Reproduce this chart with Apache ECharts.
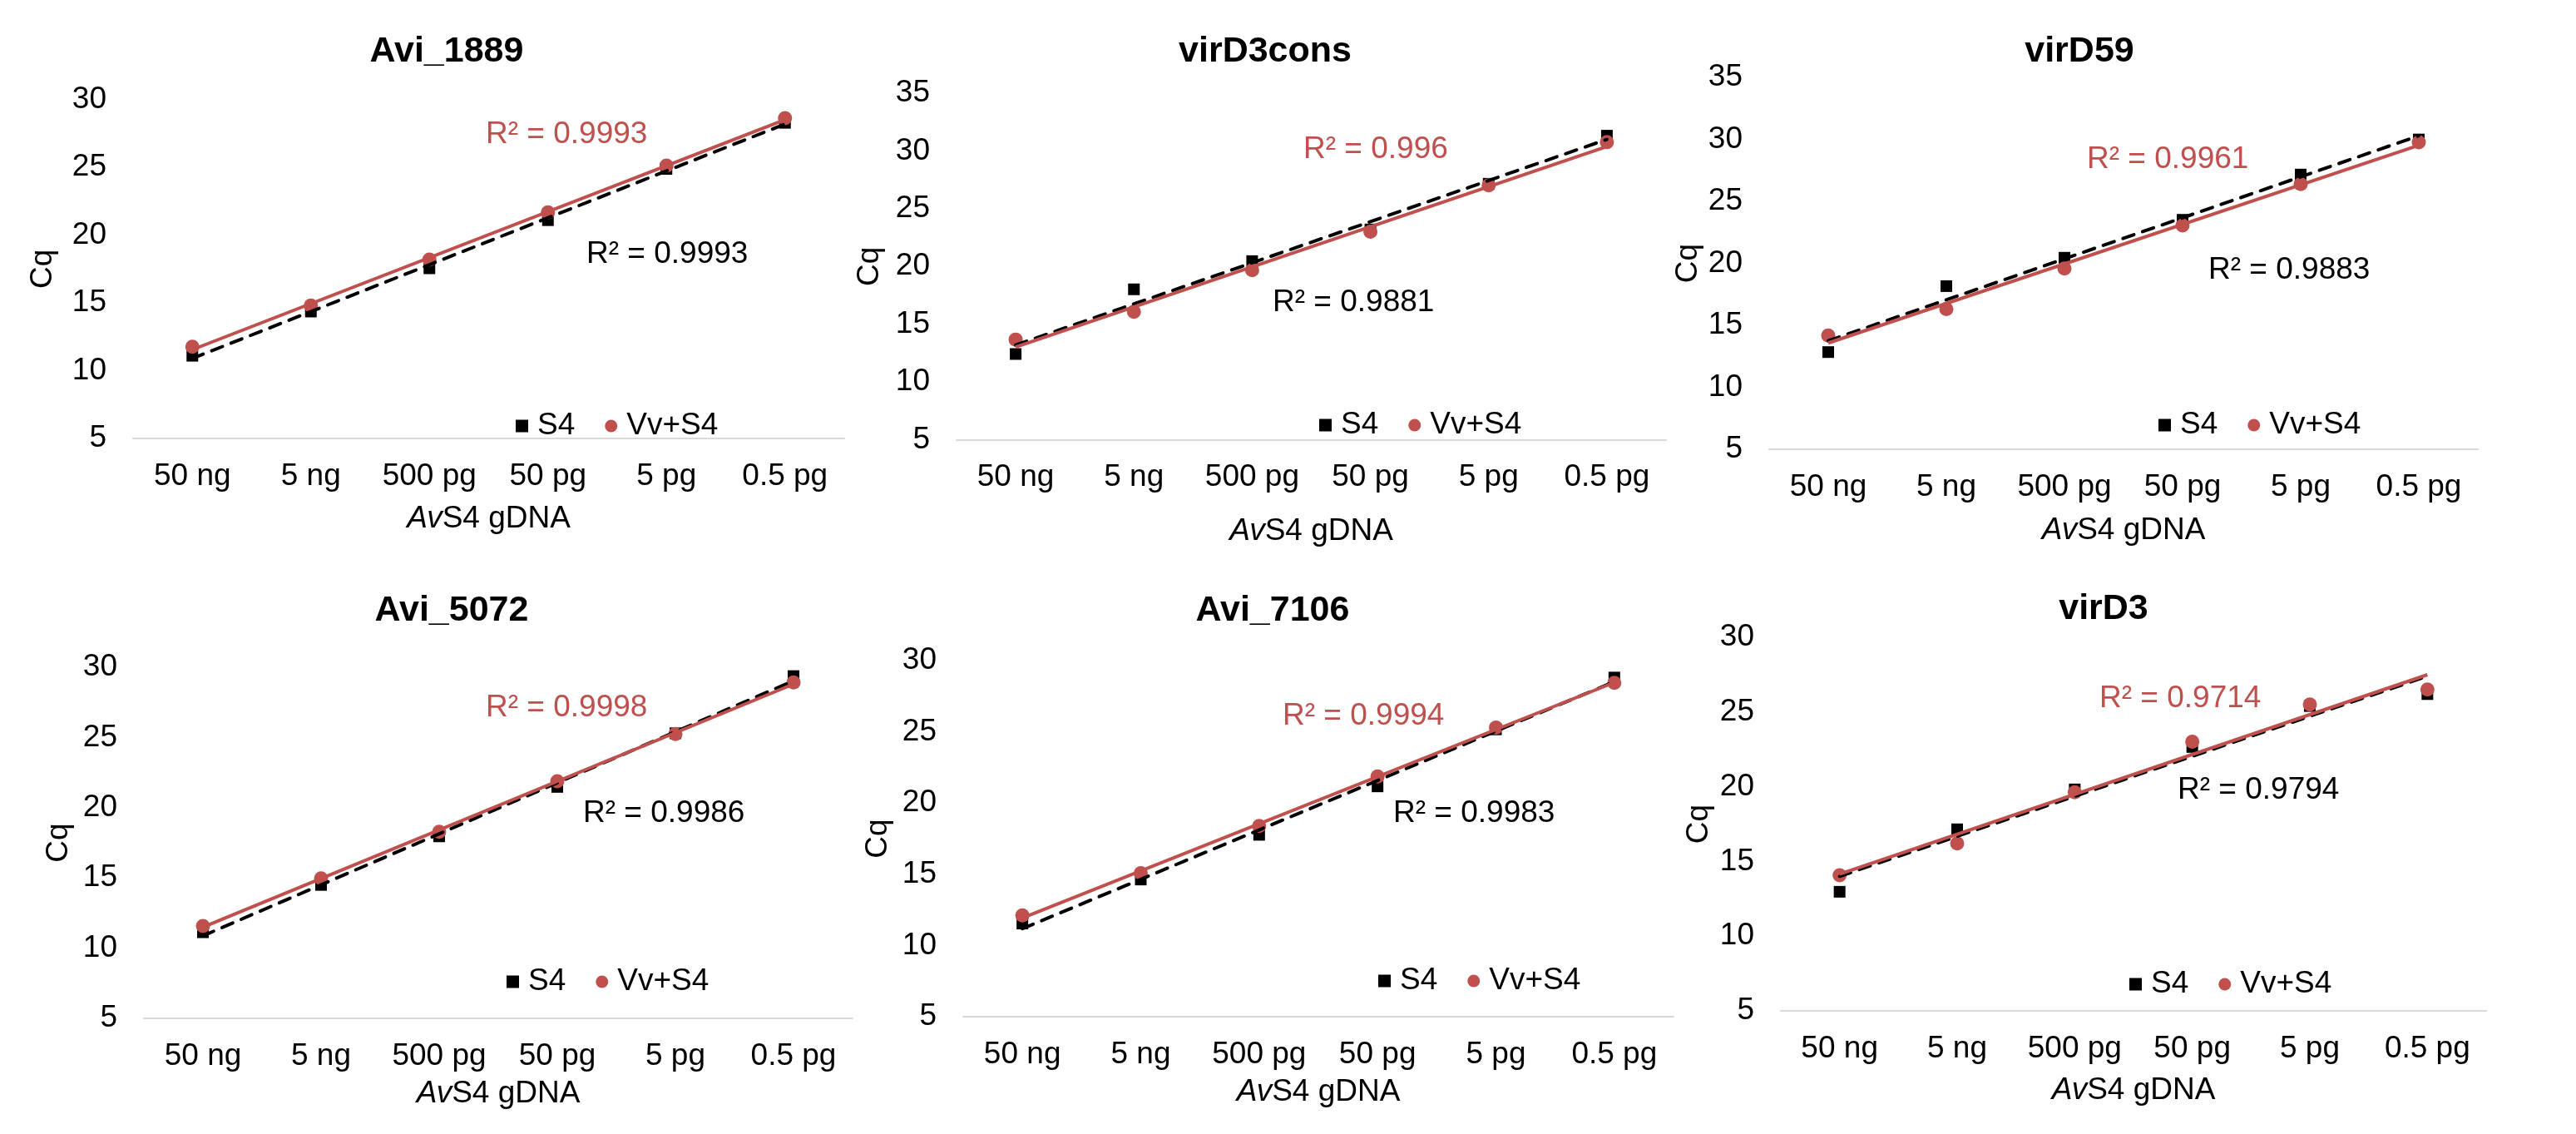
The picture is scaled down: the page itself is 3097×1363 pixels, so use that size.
<!DOCTYPE html>
<html>
<head>
<meta charset="utf-8">
<script src="https://cdn.jsdelivr.net/npm/echarts@6/dist/echarts.min.js"></script>
<style>
html,body{margin:0;padding:0;background:#ffffff;}
#chart{width:3097px;height:1363px;}
</style>
</head>
<body>
<div id="chart"></div>
<script>
// ---------------- DATA ----------------
const categories = ['50 ng', '5 ng', '500 pg', '50 pg', '5 pg', '0.5 pg'];
const panelTitles = ['Avi_1889', 'virD3cons', 'virD59', 'Avi_5072', 'Avi_7106', 'virD3'];
const yMaxValues = [30, 35, 35, 30, 30, 30];
const yMinValue = 5;
const yInterval = 5;

// S4 (black squares)
const s4_Avi1889  = [11.10, 14.36, 17.55, 21.10, 24.88, 28.28];
const s4_virD3cons = [12.42, 18.02, 20.46, 23.20, 27.16, 31.32];
const s4_virD59   = [12.84, 18.16, 20.45, 23.51, 27.16, 29.99];
const s4_Avi5072  = [11.13, 14.50, 17.96, 21.48, 25.30, 29.37];
const s4_Avi7106  = [11.54, 14.63, 17.77, 21.17, 25.17, 28.81];
const s4_virD3    = [12.97, 17.15, 19.82, 22.66, 25.40, 26.20];

// Vv+S4 (red circles)
const vv_Avi1889  = [11.77, 14.80, 18.20, 21.67, 25.12, 28.63];
const vv_virD3cons = [13.67, 16.08, 19.68, 23.00, 27.02, 30.76];
const vv_virD59   = [14.18, 16.31, 19.58, 23.05, 26.39, 29.76];
const vv_Avi5072  = [11.58, 14.97, 18.29, 21.88, 25.25, 28.92];
const vv_Avi7106  = [12.11, 15.07, 18.39, 21.86, 25.30, 28.44];
const vv_virD3    = [14.08, 16.20, 19.63, 23.01, 25.50, 26.51];

// R² labels as printed on the chart
const r2S4Labels = ['R² = 0.9993', 'R² = 0.9881', 'R² = 0.9883', 'R² = 0.9986', 'R² = 0.9983', 'R² = 0.9794'];
const r2VvLabels = ['R² = 0.9993', 'R² = 0.996', 'R² = 0.9961', 'R² = 0.9998', 'R² = 0.9994', 'R² = 0.9714'];

const seriesNames = ['S4', 'Vv+S4'];
const xAxisTitle = '{i|Av}S4 gDNA';
const yAxisTitle = 'Cq';

const s4Data = [s4_Avi1889, s4_virD3cons, s4_virD59, s4_Avi5072, s4_Avi7106, s4_virD3];
const vvData = [vv_Avi1889, vv_virD3cons, vv_virD59, vv_Avi5072, vv_Avi7106, vv_virD3];

// ---------------- LAYOUT (pixels) ----------------
const layout = [
  {l:160,  r:1015, t:119.6, b:527,  tx:537,  ty:62,  xg:78, yg:90, lx:620,  ly:512,  rv:[584,162],  rs:[705,306]},
  {l:1150, r:2003, t:112,   b:528.5,tx:1521, ty:62,  xg:92, yg:86, lx:1586, ly:511,  rv:[1567,180], rs:[1530,364]},
  {l:2127, r:2979, t:93,    b:540,  tx:2500, ty:62,  xg:79, yg:79, lx:2595, ly:511,  rv:[2509,192], rs:[2655,325]},
  {l:173,  r:1025, t:802,   b:1224, tx:543,  ty:734, xg:72, yg:84, lx:609,  ly:1180, rv:[584,851],  rs:[701,978]},
  {l:1158, r:2012, t:794,   b:1222, tx:1530, ty:734, xg:72, yg:84, lx:1657, ly:1179, rv:[1542,861], rs:[1675,978]},
  {l:2141, r:2989, t:766,   b:1215, tx:2529, ty:732, xg:77, yg:80, lx:2560, ly:1183, rv:[2524,840], rs:[2618,950]}
];

const FONT = '"Liberation Sans", Arial, Helvetica, sans-serif';
const RED = '#C0504D';
const FS = 37;

// least-squares linear fit over category positions 1..n (Excel trendline)
function fitLine(vals) {
  const n = vals.length;
  let sx = 0, sy = 0, sxx = 0, sxy = 0;
  vals.forEach((v, i) => { const x = i + 1; sx += x; sy += v; sxx += x * x; sxy += x * v; });
  const slope = (n * sxy - sx * sy) / (n * sxx - sx * sx);
  const icpt = (sy - slope * sx) / n;
  return [[categories[0], icpt + slope * 1], [categories[n - 1], icpt + slope * n]];
}

const grid = [], xAxis = [], yAxis = [], series = [], title = [], legend = [], graphic = [];

layout.forEach((p, i) => {
  grid.push({left: p.l, top: p.t, width: p.r - p.l, height: p.b - p.t, containLabel: false});
  xAxis.push({
    type: 'category', gridIndex: i, data: categories, boundaryGap: true,
    axisLine: {show: true, lineStyle: {color: '#d9d9d9', width: 2}},
    axisTick: {show: false}, splitLine: {show: false},
    axisLabel: {fontSize: FS, color: '#000', fontFamily: FONT, margin: 27, interval: 0},
    name: xAxisTitle, nameLocation: 'middle', nameGap: p.xg,
    nameTextStyle: {fontSize: FS, color: '#000', fontFamily: FONT,
      rich: {i: {fontStyle: 'italic', fontSize: FS, color: '#000', fontFamily: FONT}}}
  });
  yAxis.push({
    type: 'value', gridIndex: i, min: yMinValue, max: yMaxValues[i], interval: yInterval,
    axisLine: {show: false}, axisTick: {show: false}, splitLine: {show: false},
    axisLabel: {fontSize: FS, color: '#000', fontFamily: FONT, margin: 32},
    name: yAxisTitle, nameLocation: 'middle', nameGap: p.yg, nameRotate: 90,
    nameTextStyle: {fontSize: FS, color: '#000', fontFamily: FONT}
  });
  series.push({
    name: seriesNames[0], type: 'scatter', xAxisIndex: i, yAxisIndex: i,
    data: s4Data[i], symbol: 'rect', symbolSize: 14, itemStyle: {color: '#000', opacity: 1}, z: 2, silent: true
  });
  series.push({
    name: seriesNames[1], type: 'scatter', xAxisIndex: i, yAxisIndex: i,
    data: vvData[i], symbol: 'circle', symbolSize: 17, itemStyle: {color: RED, opacity: 1}, z: 3, silent: true
  });
  series.push({
    name: seriesNames[0] + ' trend', type: 'line', xAxisIndex: i, yAxisIndex: i,
    data: fitLine(s4Data[i]), symbol: 'none', silent: true, z: 4,
    lineStyle: {color: '#000', width: 4, type: [14, 11], cap: 'round'}
  });
  series.push({
    name: seriesNames[1] + ' trend', type: 'line', xAxisIndex: i, yAxisIndex: i,
    data: fitLine(vvData[i]), symbol: 'none', silent: true, z: 5,
    lineStyle: {color: RED, width: 4}
  });
  title.push({
    text: panelTitles[i], left: p.tx, top: p.ty - 25, textAlign: 'center', padding: 0,
    textStyle: {fontSize: 43, fontWeight: 'bold', color: '#000', fontFamily: FONT, lineHeight: 50}
  });
  legend.push({
    data: [{name: seriesNames[0], icon: 'rect'}, {name: seriesNames[1], icon: 'circle'}],
    left: p.lx, top: p.ly - 20, orient: 'horizontal', padding: 0,
    itemWidth: 15, itemHeight: 15, itemGap: 36, selectedMode: false,
    itemStyle: {opacity: 1},
    textStyle: {fontSize: FS, color: '#000', fontFamily: FONT, lineHeight: 40, padding: [0, 0, 0, 6]}
  });
  graphic.push({
    type: 'text', x: p.rv[0], y: p.rv[1], silent: true,
    style: {text: r2VvLabels[i], fill: RED, fontSize: FS, fontFamily: FONT, verticalAlign: 'middle', align: 'left'}
  });
  graphic.push({
    type: 'text', x: p.rs[0], y: p.rs[1], silent: true,
    style: {text: r2S4Labels[i], fill: '#000', fontSize: FS, fontFamily: FONT, verticalAlign: 'middle', align: 'left'}
  });
});

const chart = echarts.init(document.getElementById('chart'), null, {renderer: 'canvas'});
chart.setOption({
  backgroundColor: '#ffffff',
  animation: false,
  title, legend, grid, xAxis, yAxis, series, graphic
});
</script>
</body>
</html>
